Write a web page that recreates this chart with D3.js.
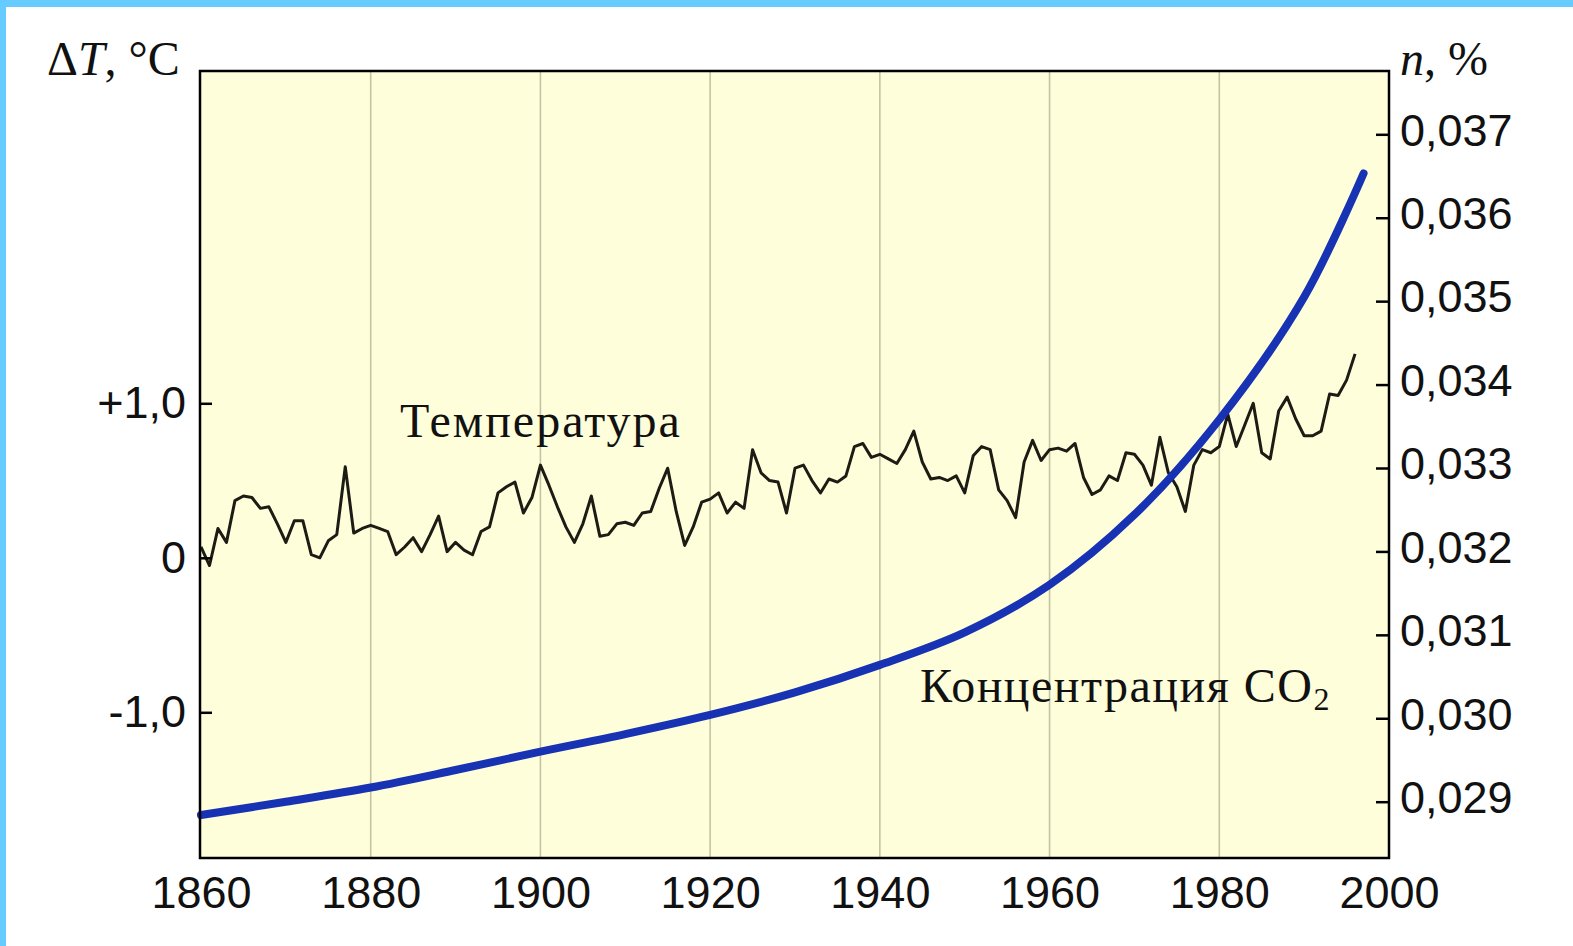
<!DOCTYPE html>
<html>
<head>
<meta charset="utf-8">
<script src="https://cdn.jsdelivr.net/npm/d3@7"></script>
<style>
    html, body { margin: 0; padding: 0; background: #ffffff; }
    #wrapper { width: 1573px; height: 946px; }
</style>
</head>
<body>
<div id="wrapper"></div>
<script>
// temperature anomaly, one value per year from 1860
const tempStartYear = 1860;
const tempValues = [
    0.07, -0.05, 0.19, 0.10, 0.37, 0.40, 0.39, 0.32, 0.33, 0.22,   // 1860s
    0.10, 0.24, 0.24, 0.02, 0.00, 0.11, 0.15, 0.59, 0.16, 0.19,    // 1870s
    0.21, 0.19, 0.17, 0.02, 0.07, 0.13, 0.04, 0.15, 0.27, 0.04,    // 1880s
    0.10, 0.05, 0.02, 0.17, 0.20, 0.42, 0.46, 0.49, 0.29, 0.39,    // 1890s
    0.60, 0.47, 0.33, 0.20, 0.10, 0.22, 0.40, 0.14, 0.15, 0.22,    // 1900s
    0.23, 0.21, 0.29, 0.30, 0.45, 0.58, 0.30, 0.08, 0.20, 0.36,    // 1910s
    0.38, 0.42, 0.29, 0.36, 0.32, 0.70, 0.55, 0.50, 0.49, 0.29,    // 1920s
    0.58, 0.60, 0.50, 0.42, 0.51, 0.49, 0.53, 0.72, 0.74, 0.65,    // 1930s
    0.67, 0.64, 0.61, 0.70, 0.82, 0.62, 0.51, 0.52, 0.50, 0.53,    // 1940s
    0.42, 0.66, 0.72, 0.70, 0.44, 0.37, 0.26, 0.62, 0.76, 0.63,    // 1950s
    0.70, 0.71, 0.69, 0.74, 0.52, 0.41, 0.44, 0.53, 0.50, 0.68,    // 1960s
    0.67, 0.60, 0.47, 0.78, 0.55, 0.46, 0.30, 0.60, 0.70, 0.68,    // 1970s
    0.72, 0.93, 0.72, 0.86, 1.00, 0.68, 0.64, 0.95, 1.04, 0.90,    // 1980s
    0.79, 0.79, 0.82, 1.06, 1.05, 1.15, 1.32                       // 1990s
];

// CO2 concentration, %
const co2Years = [1860, 1870, 1880, 1890, 1900, 1910, 1920, 1930, 1940, 1950, 1960, 1970, 1980, 1990, 1997];
const co2Values = [0.02884, 0.02900, 0.02917, 0.02938, 0.02960, 0.02981, 0.03004, 0.03031, 0.03064, 0.03103, 0.03160, 0.03244, 0.03358, 0.03505, 0.03653];

const yearTicks = [1860, 1880, 1900, 1920, 1940, 1960, 1980, 2000];
const tempTicks = [1, 0, -1];
const tempTickLabels = ["+1,0", "0", "-1,0"];
const co2Ticks = [0.029, 0.030, 0.031, 0.032, 0.033, 0.034, 0.035, 0.036, 0.037];
const co2TickLabels = ["0,029", "0,030", "0,031", "0,032", "0,033", "0,034", "0,035", "0,036", "0,037"];

function drawChart() {
    const dimensions = {
        width: 1573,
        height: 946,
        left: 200,
        right: 1389,
        top: 71,
        bottom: 858
    };

    const tempData = tempValues.map((v, i) => ({ year: tempStartYear + i, value: v }));
    const co2Data = co2Years.map((y, i) => ({ year: y, value: co2Values[i] }));

    const wrapper = d3.select("#wrapper")
        .append("svg")
        .attr("width", dimensions.width)
        .attr("height", dimensions.height);

    // page frame
    wrapper.append("rect").attr("width", dimensions.width).attr("height", dimensions.height).attr("fill", "#ffffff");
    wrapper.append("rect").attr("width", dimensions.width).attr("height", 7).attr("fill", "#66ccff");
    wrapper.append("rect").attr("width", 6).attr("height", dimensions.height).attr("fill", "#66ccff");

    const xScale = d3.scaleLinear()
        .domain([1860, 2000])
        .range([201, 1389]);

    const tempScale = d3.scaleLinear()
        .domain([-1, 1])
        .range([712.3, 403.3]);

    const co2Scale = d3.scaleLinear()
        .domain([0.029, 0.037])
        .range([801.7, 134.3]);

    // plot background
    wrapper.append("rect")
        .attr("x", dimensions.left)
        .attr("y", dimensions.top)
        .attr("width", dimensions.right - dimensions.left)
        .attr("height", dimensions.bottom - dimensions.top)
        .attr("fill", "#fefedb");

    // vertical grid
    wrapper.append("g")
        .selectAll("line")
        .data(yearTicks.slice(1, -1))
        .join("line")
        .attr("x1", d => xScale(d))
        .attr("x2", d => xScale(d))
        .attr("y1", dimensions.top)
        .attr("y2", dimensions.bottom)
        .attr("stroke", "#c4c4a4")
        .attr("stroke-width", 1.6);

    const tempLine = d3.line()
        .x(d => xScale(d.year))
        .y(d => tempScale(d.value));

    wrapper.append("path")
        .datum(tempData)
        .attr("d", tempLine)
        .attr("fill", "none")
        .attr("stroke", "#1c1c14")
        .attr("stroke-width", 3)
        .attr("stroke-linejoin", "round");

    const co2Line = d3.line()
        .x(d => xScale(d.year))
        .y(d => co2Scale(d.value))
        .curve(d3.curveCatmullRom.alpha(0.5));

    wrapper.append("path")
        .datum(co2Data)
        .attr("d", co2Line)
        .attr("fill", "none")
        .attr("stroke", "#1832b4")
        .attr("stroke-width", 8)
        .attr("stroke-linecap", "round");

    // frame
    wrapper.append("rect")
        .attr("x", dimensions.left)
        .attr("y", dimensions.top)
        .attr("width", dimensions.right - dimensions.left)
        .attr("height", dimensions.bottom - dimensions.top)
        .attr("fill", "none")
        .attr("stroke", "#000000")
        .attr("stroke-width", 2.5);

    // Axes
    const tickFont = "'Liberation Sans', Arial, sans-serif";

    const leftAxis = wrapper.append("g")
        .attr("transform", `translate(${dimensions.left}, 0)`)
        .call(d3.axisLeft(tempScale)
            .tickValues(tempTicks)
            .tickFormat((d, i) => tempTickLabels[i])
            .tickSize(-12)
            .tickPadding(14));

    const rightAxis = wrapper.append("g")
        .attr("transform", `translate(${dimensions.right}, 0)`)
        .call(d3.axisRight(co2Scale)
            .tickValues(co2Ticks)
            .tickFormat((d, i) => co2TickLabels[i])
            .tickSize(-13)
            .tickPadding(11));
    rightAxis.selectAll("text").attr("dy", "0.24em");

    const bottomAxis = wrapper.append("g")
        .attr("transform", `translate(0, ${dimensions.bottom})`)
        .call(d3.axisBottom(xScale)
            .tickValues(yearTicks)
            .tickFormat(d3.format("d"))
            .tickSize(0)
            .tickPadding(18));

    [leftAxis, rightAxis, bottomAxis].forEach(axis => {
        axis.select(".domain").remove();
        axis.selectAll("line").attr("stroke", "#000000").attr("stroke-width", 2.5);
        axis.selectAll("text")
            .attr("fill", "#111111")
            .style("font-family", tickFont)
            .style("font-size", "45px");
    });

    // Labels
    const serif = "'Liberation Serif', 'Times New Roman', serif";

    const yTitle = wrapper.append("text")
        .attr("x", 47)
        .attr("y", 75)
        .attr("font-family", serif)
        .attr("font-size", "48px")
        .attr("fill", "#111111");
    yTitle.append("tspan").text("Δ");
    yTitle.append("tspan").attr("font-style", "italic").text("T");
    yTitle.append("tspan").text(", °C");

    const y2Title = wrapper.append("text")
        .attr("x", 1400)
        .attr("y", 75)
        .attr("font-family", serif)
        .attr("font-size", "48px")
        .attr("fill", "#111111");
    y2Title.append("tspan").attr("font-style", "italic").text("n");
    y2Title.append("tspan").text(", %");

    wrapper.append("text")
        .attr("x", 400)
        .attr("y", 437)
        .attr("font-family", serif)
        .attr("font-size", "48px")
        .attr("letter-spacing", "2px")
        .attr("fill", "#111111")
        .text("Температура");

    const co2Label = wrapper.append("text")
        .attr("x", 920)
        .attr("y", 702)
        .attr("font-family", serif)
        .attr("font-size", "48px")
        .attr("letter-spacing", "1.5px")
        .attr("fill", "#111111");
    co2Label.append("tspan").text("Концентрация CO");
    co2Label.append("tspan").attr("font-size", "32px").attr("dy", 8).text("2");
}

drawChart();
</script>
</body>
</html>
